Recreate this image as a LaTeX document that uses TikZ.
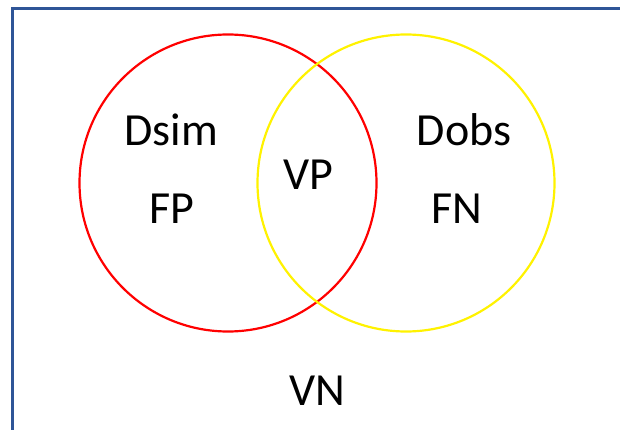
\documentclass[tikz,border=0pt]{standalone}
\usepackage{fontspec}
\setmainfont{Carlito}
\usepackage{tikz}

\definecolor{frameblue}{RGB}{47,85,151}

\begin{document}
\begin{tikzpicture}[x=1pt, y=-1pt, font=\fontsize{46}{52}\selectfont,
set/.style={circle, draw, line width=2.2pt, inner sep=0pt, minimum size=297pt},
lbl/.style={anchor=base, inner sep=0pt}]
\useasboundingbox (0,0) rectangle (620,430);
\clip (0,0) rectangle (620,430);
\draw [frameblue, line width=3pt] (12.5,9) rectangle (700,500);
\node [set, red] (sim) at (228,183) {};
\node [set, yellow] (obs) at (406,183) {};
\node [lbl] (dsim) at (171,146) {Dsim};
\node [lbl] (fp) at (172,223) {FP};
\node [lbl] (vp) at (308,190) {VP};
\node [lbl] (dobs) at (464,146) {Dobs};
\node [lbl] (fn) at (457,223) {FN};
\node [lbl] (vn) at (317,405) {VN};
\end{tikzpicture}
\end{document}
